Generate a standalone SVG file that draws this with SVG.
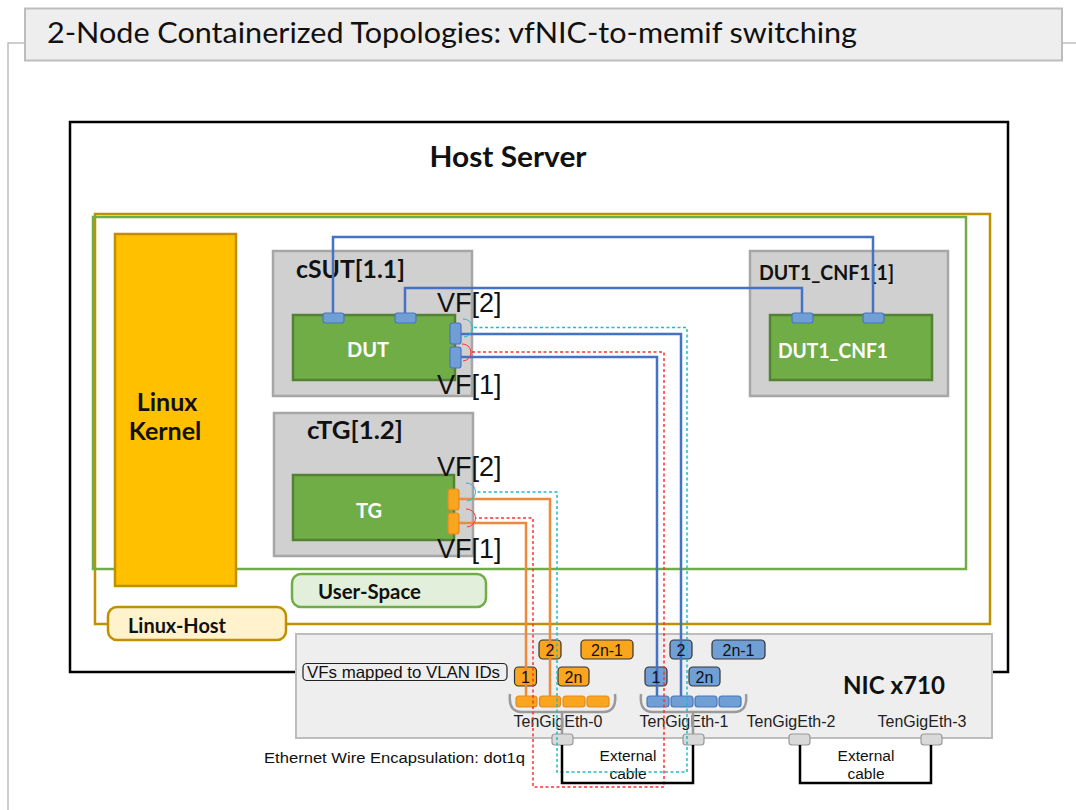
<svg xmlns="http://www.w3.org/2000/svg" width="1076" height="810" viewBox="0 0 1076 810">
<defs>
<style>
.cal{font-family:Lato,"Open Sans","DejaVu Sans",sans-serif;}
.ari{font-family:"Liberation Sans",Arial,sans-serif;}
.b{font-weight:bold;}
.cont{fill:#d0d0d0;stroke:#a6a6a6;stroke-width:2.5;}
.app{fill:#70ad47;stroke:#548235;stroke-width:2.5;}
.bport{fill:#6f9fd4;stroke:#4a76bd;stroke-width:1.2;}
.oport{fill:#f9a51e;stroke:#e58a1f;stroke-width:1.2;}
.btag{fill:#6f9fd4;stroke:#333;stroke-width:1.2;}
.otag{fill:#f9a51e;stroke:#333;stroke-width:1.2;}
.phy{fill:#d9d9d9;stroke:#999;stroke-width:1.2;}
.bl{fill:none;stroke:#4472c4;stroke-width:2.5;}
.ol{fill:none;stroke:#ee8a3a;stroke-width:2.5;}
.cy{fill:none;stroke:#1fbcc9;stroke-width:1.5;stroke-dasharray:3 2.5;}
.rd{fill:none;stroke:#ff3030;stroke-width:1.5;stroke-dasharray:3 2.5;}
.cya{fill:none;stroke:#1fbcc9;stroke-width:1;}
.rda{fill:none;stroke:#ff3030;stroke-width:1;}
.brk{fill:none;stroke:#9a9a9a;stroke-width:2.5;}
.cable{fill:none;stroke:#000;stroke-width:2.5;}
.tag{font-family:"Liberation Sans",Arial,sans-serif;font-size:16px;fill:#111;text-anchor:middle;}
.vf{font-family:"Liberation Sans",Arial,sans-serif;font-size:27px;fill:#111;}
.eth{font-family:"Liberation Sans",Arial,sans-serif;font-size:16px;fill:#222;text-anchor:middle;}
</style>
</defs>

<g id="frame">
<polyline points="25,43 8,43 8,810" fill="none" stroke="#bdbdbd" stroke-width="1.5"/>
<line x1="1062" y1="43" x2="1076" y2="43" stroke="#bdbdbd" stroke-width="1.5"/>
</g>

<g id="title">
<rect x="25" y="8.5" width="1037" height="52" fill="#eeeeee" stroke="#bdbdbd" stroke-width="2"/>
<text x="47" y="43" class="cal" font-size="28" fill="#111" textLength="810" lengthAdjust="spacingAndGlyphs">2-Node Containerized Topologies: vfNIC-to-memif switching</text>
</g>

<g id="host-server">
<rect x="70" y="122" width="938" height="550" fill="#fff" stroke="#000" stroke-width="2.5"/>
<text x="508" y="167" class="cal b" font-size="28" fill="#111" text-anchor="middle" textLength="157" lengthAdjust="spacingAndGlyphs">Host Server</text>
</g>

<g id="linux-host-frame">
<rect x="95" y="214" width="895" height="410" fill="none" stroke="#bf9000" stroke-width="2.5"/>
</g>
<g id="user-space-frame">
<rect x="93" y="217" width="873" height="352" fill="none" stroke="#70ad47" stroke-width="2.5"/>
</g>

<g id="linux-kernel">
<rect x="115" y="234" width="121" height="352" fill="#ffc000" stroke="#bf9000" stroke-width="2.5"/>
<text x="167" y="411" class="cal b" font-size="25" fill="#111" text-anchor="middle">Linux</text>
<text x="165" y="440" class="cal b" font-size="25" fill="#111" text-anchor="middle">Kernel</text>
</g>

<g id="user-space-label">
<rect x="292" y="574" width="194" height="33" rx="9" fill="#e2efda" stroke="#70ad47" stroke-width="2.5"/>
<text x="318" y="599" class="cal b" font-size="20" fill="#111" textLength="103" lengthAdjust="spacingAndGlyphs">User-Space</text>
</g>

<g id="linux-host-label">
<rect x="108" y="607" width="178" height="33" rx="9" fill="#fff2cc" stroke="#bf9000" stroke-width="2.5"/>
<text x="128" y="633" class="cal b" font-size="20" fill="#111" textLength="98" lengthAdjust="spacingAndGlyphs">Linux-Host</text>
</g>

<g id="csut">
<rect x="273" y="251" width="199" height="145" class="cont"/>
<text x="296" y="278" class="cal b" font-size="24" fill="#111" textLength="109" lengthAdjust="spacingAndGlyphs">cSUT[1.1]</text>
<rect x="293" y="315" width="162" height="65" class="app"/>
<text x="368" y="357" class="cal b" font-size="20" fill="#fff" text-anchor="middle">DUT</text>
</g>

<g id="ctg">
<rect x="274" y="413" width="199" height="143" class="cont"/>
<text x="307" y="439" class="cal b" font-size="24" fill="#111" textLength="96" lengthAdjust="spacingAndGlyphs">cTG[1.2]</text>
<rect x="293" y="475" width="161" height="65" class="app"/>
<text x="369" y="518" class="cal b" font-size="20" fill="#fff" text-anchor="middle">TG</text>
</g>

<g id="dut1-cnf1">
<rect x="750" y="251" width="198" height="145" class="cont"/>
<text x="759" y="280" class="cal b" font-size="20" fill="#111" textLength="135" lengthAdjust="spacingAndGlyphs">DUT1_CNF1[1]</text>
<rect x="770" y="315" width="162" height="65" class="app"/>
<text x="778" y="358" class="cal b" font-size="20" fill="#fff" textLength="110" lengthAdjust="spacingAndGlyphs">DUT1_CNF1</text>
</g>

<g id="nic">
<rect x="296" y="634" width="696" height="104" fill="#eeeeee" stroke="#bdbdbd" stroke-width="2"/>
<text x="843" y="694" class="cal b" font-size="24" fill="#111" textLength="102" lengthAdjust="spacingAndGlyphs">NIC x710</text>
<rect x="303" y="663.5" width="204" height="17" rx="4" fill="none" stroke="#222" stroke-width="1.2"/>
<text x="307" y="678" class="ari" font-size="16.5" fill="#111" textLength="193" lengthAdjust="spacingAndGlyphs">VFs mapped to VLAN IDs</text>
<text x="558" y="727" class="eth">TenGigEth-0</text>
<text x="684" y="727" class="eth">TenGigEth-1</text>
<text x="791" y="727" class="eth">TenGigEth-2</text>
<text x="922" y="727" class="eth">TenGigEth-3</text>
<path d="M510,694 Q508,712 522,712 L603,712 Q617,712 615,694" class="brk"/>
<path d="M641,694 Q639,712 653,712 L734,712 Q748,712 746,694" class="brk"/>
<line x1="562" y1="712" x2="562" y2="734" stroke="#9a9a9a" stroke-width="2.5"/>
<line x1="693" y1="712" x2="693" y2="734" stroke="#9a9a9a" stroke-width="2.5"/>
<rect x="516" y="696" width="21" height="11" rx="3" class="oport"/>
<rect x="539.5" y="696" width="21" height="11" rx="3" class="oport"/>
<rect x="563" y="696" width="22" height="11" rx="3" class="oport"/>
<rect x="587" y="696" width="22" height="11" rx="3" class="oport"/>
<rect x="647" y="696" width="22" height="11" rx="3" class="bport"/>
<rect x="671" y="696" width="22" height="11" rx="3" class="bport"/>
<rect x="695" y="696" width="22" height="11" rx="3" class="bport"/>
<rect x="719" y="696" width="22" height="11" rx="3" class="bport"/>
<rect x="552" y="734" width="21" height="11" rx="3" class="phy"/>
<rect x="683" y="734" width="21" height="11" rx="3" class="phy"/>
<rect x="789" y="734" width="21" height="11" rx="3" class="phy"/>
<rect x="921" y="734" width="21" height="11" rx="3" class="phy"/>
<rect x="539" y="640" width="22" height="19" rx="4" class="otag"/>
<rect x="581" y="640" width="52" height="19" rx="4" class="otag"/>
<rect x="514.5" y="667" width="22" height="19" rx="4" class="otag"/>
<rect x="558" y="667" width="31" height="19" rx="4" class="otag"/>
<rect x="670" y="640" width="22" height="19" rx="4" class="btag"/>
<rect x="712" y="640" width="53" height="19" rx="4" class="btag"/>
<rect x="645" y="667" width="22" height="19" rx="4" class="btag"/>
<rect x="689" y="667" width="31" height="19" rx="4" class="btag"/>
</g>

<g id="labels">
<text x="437" y="312" class="vf">VF[2]</text>
<text x="437" y="394" class="vf">VF[1]</text>
<text x="437" y="476" class="vf">VF[2]</text>
<text x="437" y="558" class="vf">VF[1]</text>
<text x="264" y="763" class="ari" font-size="15.5" fill="#111" textLength="261" lengthAdjust="spacingAndGlyphs">Ethernet Wire Encapsulation: dot1q</text>
<text x="628" y="761" class="ari" font-size="15.5" fill="#111" text-anchor="middle">External</text>
<text x="628" y="779" class="ari" font-size="15.5" fill="#111" text-anchor="middle">cable</text>
<text x="866" y="761" class="ari" font-size="15.5" fill="#111" text-anchor="middle">External</text>
<text x="866" y="779" class="ari" font-size="15.5" fill="#111" text-anchor="middle">cable</text>
</g>

<g id="connectors">
<polyline points="333,313 333,237 873,237 873,313" class="bl"/>
<polyline points="405,313 405,288 802,288 802,313" class="bl"/>
<polyline points="461,334 681,334 681,696" class="bl"/>
<polyline points="461,357 657,357 657,696" class="bl"/>
<polyline points="459,499 550,499 550,696" class="ol"/>
<polyline points="459,523 526,523 526,696" class="ol"/>
<polyline points="474,327.5 687,327.5 687,772 557,772 557,492 475,492" class="cy"/>
<polyline points="472,352 664,352 664,787 533,787 533,518 475,518" class="rd"/>
<path d="M463,319 A9,9 0 0 1 464,337" class="cya"/>
<path d="M462,344 A8.5,8.5 0 0 1 463,361" class="rda"/>
<path d="M466,483 A9,9 0 0 1 467,501" class="cya"/>
<path d="M466,509 A9,9 0 0 1 467,527" class="rda"/>
<polyline points="562,745 562,783 693,783 693,745" class="cable"/>
<polyline points="800,745 800,783 931,783 931,745" class="cable"/>
</g>

<g id="vlan-tag-texts">
<text x="550" y="656" class="tag">2</text>
<text x="607" y="656" class="tag">2n-1</text>
<text x="525.5" y="683" class="tag">1</text>
<text x="573.5" y="683" class="tag">2n</text>
<text x="681" y="656" class="tag">2</text>
<text x="738.5" y="656" class="tag">2n-1</text>
<text x="656" y="683" class="tag">1</text>
<text x="704.5" y="683" class="tag">2n</text>
</g>

<g id="ports">
<rect x="323" y="313" width="21" height="10" rx="2.5" class="bport"/>
<rect x="395" y="313" width="21" height="10" rx="2.5" class="bport"/>
<rect x="792" y="313" width="21" height="10" rx="2.5" class="bport"/>
<rect x="863" y="313" width="21" height="10" rx="2.5" class="bport"/>
<rect x="450" y="323" width="11" height="21" rx="2.5" class="bport"/>
<rect x="450" y="347" width="11" height="21" rx="2.5" class="bport"/>
<rect x="448" y="489" width="11" height="21" rx="2.5" class="oport"/>
<rect x="448" y="513" width="11" height="21" rx="2.5" class="oport"/>
</g>
</svg>
